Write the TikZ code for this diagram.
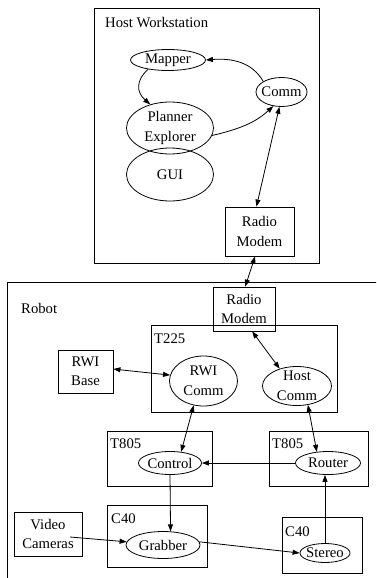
\documentclass[tikz,border=0pt]{standalone}
\usepackage{fontspec}
\setmainfont{Liberation Serif}
\usetikzlibrary{shapes.geometric,arrows.meta,calc}
\begin{document}
\begin{tikzpicture}[x=1pt,y=-1pt,
  every node/.style={font=\fontsize{14.7}{19.5}\selectfont},
  ell/.style={ellipse, draw, inner sep=0pt, line width=0.8pt},
  box/.style={rectangle, draw, inner sep=0pt, line width=0.8pt, align=center},
  frame/.style={rectangle, draw, inner sep=0pt, line width=0.8pt},
  txt/.style={inner sep=0pt, align=center},
  ttl/.style={inner sep=0pt, anchor=west},
  conn/.style={line width=0.8pt, >={Triangle[length=7pt,width=5pt]}},
]
\useasboundingbox (0,0) rectangle (376,578);
\clip (0,0) rectangle (376,578);

% containers
\node[frame, minimum width=225pt, minimum height=255pt] (host) at (206.5,135.5) {};
\node[ttl] (hostT) at (105,23) {Host Workstation};
\node[frame, minimum width=393pt, minimum height=338pt] (robot) at (203.5,451) {};
\node[ttl] (robotT) at (21,308) {Robot};
\node[frame, minimum width=186pt, minimum height=87pt] (t225) at (244,368.5) {};
\node[ttl] (t225T) at (154,339) {T225};
\node[frame, minimum width=105pt, minimum height=55pt] (t805a) at (159.5,458.5) {};
\node[ttl] (t805aT) at (110,444) {T805};
\node[frame, minimum width=99pt, minimum height=55pt] (t805b) at (318.5,458.5) {};
\node[ttl] (t805bT) at (272,444) {T805};
\node[frame, minimum width=100pt, minimum height=62pt] (c40a) at (157,536) {};
\node[ttl] (c40aT) at (111,519) {C40};
\node[frame, minimum width=80pt, minimum height=56pt] (c40b) at (322,545) {};
\node[ttl] (c40bT) at (285,532) {C40};

% boxes
\node[box, minimum width=69pt, minimum height=49pt] (rmh) at (259.5,231.5) {Radio\\Modem};
\node[box, minimum width=62pt, minimum height=44pt] (rmr) at (244,309) {Radio\\Modem};
\node[box, minimum width=55pt, minimum height=43pt] (rwib) at (85.5,371.5) {RWI\\Base};
\node[box, minimum width=68pt, minimum height=44pt] (vc) at (48,534) {Video\\Cameras};

% ellipses
\node[ell, minimum width=75pt, minimum height=21pt] (mapper) at (168,60) {};
\node[txt] (mapperT) at (mapper) {Mapper};
\node[ell, minimum width=51pt, minimum height=29pt] (comm) at (281.5,92) {};
\node[txt] (commT) at (comm) {Comm};
\node[ell, minimum width=87pt, minimum height=52pt] (planner) at (170,128) {};
\node[txt] (plannerT) at (planner) {Planner\\Explorer};
\node[ell, minimum width=87pt, minimum height=53pt] (gui) at (170,174.5) {};
\node[txt] (guiT) at (gui) {GUI};
\node[ell, minimum width=68pt, minimum height=50pt] (rwic) at (203.5,381) {};
\node[txt] (rwicT) at (rwic) {RWI\\Comm};
\node[ell, minimum width=69pt, minimum height=39pt] (hcomm) at (297,386) {};
\node[txt] (hcommT) at (hcomm) {Host\\Comm};
\node[ell, minimum width=63pt, minimum height=23pt] (ctrl) at (170,463) {};
\node[txt] (ctrlT) at (ctrl) {Control};
\node[ell, minimum width=65pt, minimum height=23pt] (router) at (328,463) {};
\node[txt] (routerT) at (router) {Router};
\node[ell, minimum width=74pt, minimum height=27pt] (grab) at (163,545) {};
\node[txt] (grabT) at (grab) {Grabber};
\node[ell, minimum width=50pt, minimum height=19pt] (stereo) at (325,553) {};
\node[txt] (stereoT) at (stereo) {Stereo};

\coordinate (vcs) at ($(vc.center)+(22,3)$);

% connectors
\draw[conn,->] (comm.150) .. controls (252,62) and (232,58) .. (mapper.east);
\draw[conn,->] (mapper.205) .. controls (136,80) and (136,92) .. (planner.130);
\draw[conn,->] (planner.-10) .. controls (245,128) and (258,120) .. (comm.240);
\draw[conn,<->] (comm.262) -- (rmh.97);
\draw[conn,<->] (rmh.260) -- (rmr.87);
\draw[conn,<->] (rmr.-70) -- (hcomm.135);
\draw[conn,<->] (rwib.5) -- (rwic.170);
\draw[conn,<->] (rwic.248) -- (ctrl.45);
\draw[conn,<->] (hcomm.300) -- (router.135);
\draw[conn,->] (router.west) -- (ctrl.east);
\draw[conn,->] (ctrl.south) -- (grab.61);
\draw[conn,->] (vcs) -- (grab.175);
\draw[conn,->] (grab.5) -- (stereo.west);
\draw[conn,->] (stereo.north) -- (stereo.north |- router.south);
\end{tikzpicture}
\end{document}
